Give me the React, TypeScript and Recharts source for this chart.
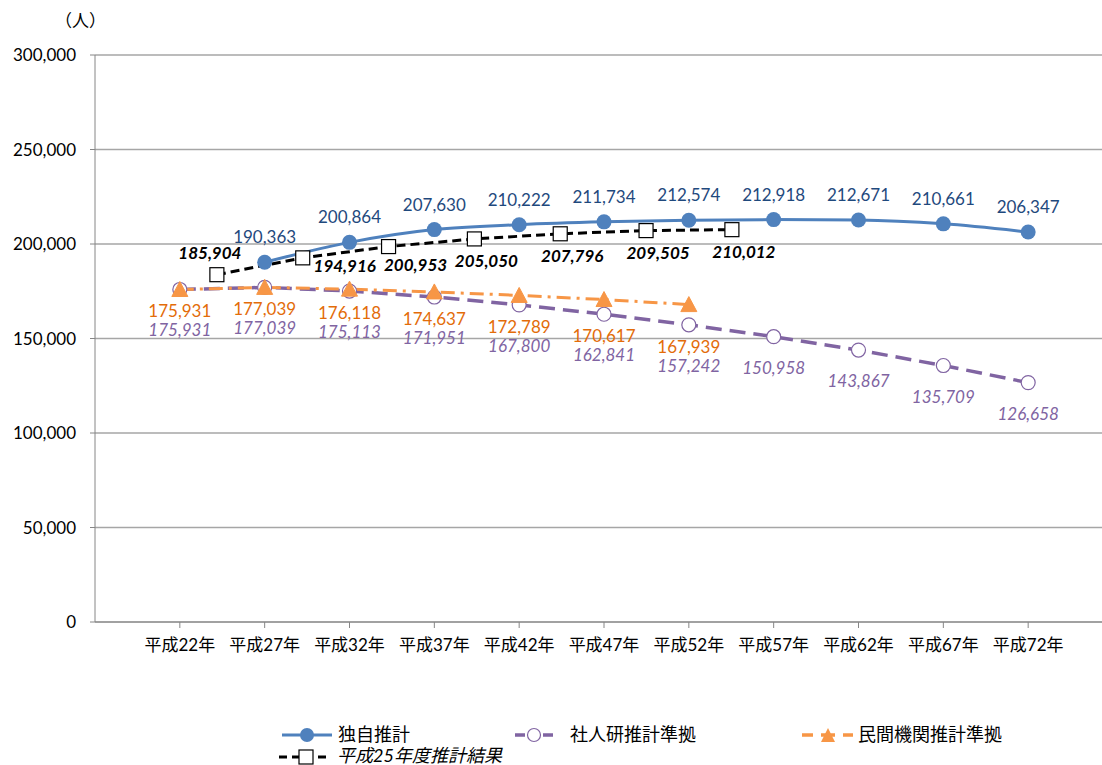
import React from 'react';
import { LineChart, Line, XAxis, YAxis, CartesianGrid } from 'recharts';

const years = [22, 27, 32, 37, 42, 47, 52, 57, 62, 67, 72];
const dokuji = [null, 190363, 200864, 207630, 210222, 211734, 212574, 212918, 212671, 210661, 206347];
const shajinken = [175931, 177039, 175113, 171951, 167800, 162841, 157242, 150958, 143867, 135709, 126658];
const minkan = [175931, 177039, 176118, 174637, 172789, 170617, 167939, null, null, null, null];
const h25 = [185904, 194916, 200953, 205050, 207796, 209505, 210012];
const yTicks = [0, 50000, 100000, 150000, 200000, 250000, 300000];

const BLUE = '#4f81bd';
const BLUE_TXT = '#1f497d';
const PURPLE = '#8064a2';
const ORANGE = '#f79646';
const ORANGE_TXT = '#e36c09';
const FONT = "Lato, 'Noto Sans CJK JP', sans-serif";
const FS = 17;
// pixels per person on the main y axis (plot is 567px tall for 300,000)
const PX = 567 / 300000;

const rows = years.map((y, i) => ({ year: y, dokuji: dokuji[i], shajinken: shajinken[i], minkan: minkan[i] }));
const h25Rows = h25.map((v, i) => ({ i, value: v }));

const fmt = (v: number) => v.toLocaleString('en-US');

// orange label sits under whichever marker is lower (orange or purple)
const orangeCenter = (y: number, i: number) => {
  const o = minkan[i] as number;
  const purpleY = y + (o - shajinken[i]) * PX;
  return Math.max(y, purpleY) + 22;
};

const blueLabel = (p: any) => {
  if (p.value == null) return null;
  return <text x={p.x} y={p.y - 19} textAnchor="middle" fontSize={FS} fill={BLUE_TXT} fontFamily={FONT}>{fmt(p.value)}</text>;
};
const orangeLabel = (p: any) => {
  if (p.value == null) return null;
  return <text x={p.x} y={orangeCenter(p.y, p.index) + 6} textAnchor="middle" fontSize={FS} fill={ORANGE_TXT} fontFamily={FONT}>{fmt(p.value)}</text>;
};
const purpleLabel = (p: any) => {
  if (p.value == null) return null;
  const i = p.index;
  let c = p.y + 31;
  if (minkan[i] != null) {
    const oy = p.y - ((minkan[i] as number) - p.value) * PX;
    c = orangeCenter(oy, i) + 19;
  }
  return <text x={p.x} y={c + 6} textAnchor="middle" fontSize={FS} fontStyle="italic" fill={PURPLE} fontFamily={FONT}>{fmt(p.value)}</text>;
};
const blackLabel = (p: any) => {
  let dx = 12, dy = 28;
  if (p.index === 0) { dx = -7; dy = -16; }
  if (p.index === 1) { dx = 42; dy = 14; }
  if (p.index === 2) { dx = 27; dy = 24; }
  return <text x={p.x + dx} y={p.y + dy} textAnchor="middle" fontSize={FS} fontWeight="bold" fontStyle="italic" fill="#000" fontFamily={FONT}>{fmt(p.value)}</text>;
};

const Triangle = (p: any) => {
  if (p.cx == null || p.cy == null) return null;
  const { cx, cy } = p;
  return <path d={`M${cx},${cy - 8} L${cx + 8},${cy + 7} L${cx - 8},${cy + 7} Z`} fill={ORANGE} stroke={ORANGE} />;
};
const Square = (p: any) => {
  if (p.cx == null || p.cy == null) return null;
  return <rect x={p.cx - 7} y={p.cy - 7} width={14} height={14} fill="#fff" stroke="#000" strokeWidth={1.2} />;
};

const legendText: React.CSSProperties = { position: 'absolute', fontSize: 18, fontFamily: FONT, lineHeight: '18px', whiteSpace: 'nowrap' };

const Legend = () => (
  <div>
    <svg style={{ position: 'absolute', left: 0, top: 0 }} width={1102} height={765}>
      <line x1={282} y1={735} x2={332} y2={735} stroke={BLUE} strokeWidth={3} />
      <circle cx={307} cy={735} r={7} fill={BLUE} />
      <line x1={515} y1={735} x2={553} y2={735} stroke={PURPLE} strokeWidth={3.5} strokeDasharray="10 18 10" />
      <circle cx={534} cy={735} r={6.5} fill="#fff" stroke={PURPLE} strokeWidth={1.2} />
      <line x1={802} y1={735} x2={853} y2={735} stroke={ORANGE} strokeWidth={3.5} strokeDasharray="11 8 14 8" />
      <path d="M828,728 L835,742 L821,742 Z" fill={ORANGE} />
      <line x1={279} y1={757} x2={330} y2={757} stroke="#000" strokeWidth={3} strokeDasharray="8 5" />
      <rect x={299} y={750} width={14} height={14} fill="#fff" stroke="#000" strokeWidth={1.2} />
    </svg>
    <div style={{ ...legendText, left: 338, top: 725 }}>独自推計</div>
    <div style={{ ...legendText, left: 570, top: 725 }}>社人研推計準拠</div>
    <div style={{ ...legendText, left: 858, top: 725 }}>民間機関推計準拠</div>
    <div style={{ ...legendText, left: 337, top: 746, fontStyle: 'italic' }}>平成25年度推計結果</div>
  </div>
);

export default function App() {
  return (
    <div style={{ position: 'absolute', left: 0, top: 0, width: 1102, height: 765, overflow: 'hidden', background: '#fff' }}>
      <div style={{ position: 'absolute', left: 55, top: 7, fontSize: 17, fontFamily: FONT }}>（人）</div>
      <LineChart width={1113} height={680} data={rows} margin={{ top: 55, right: 0, left: 0, bottom: 18 }}>
        <CartesianGrid vertical={false} stroke="#a6a6a6" strokeWidth={1.3} />
        <XAxis
          dataKey="year"
          type="number"
          domain={[17, 77]}
          ticks={years}
          height={40}
          tickFormatter={(v: number) => `平成${v}年`}
          tick={{ fontSize: FS, fill: '#000', fontFamily: FONT }}
          stroke="#868686"
          tickSize={6}
          tickMargin={11}
        />
        <XAxis xAxisId="b" dataKey="i" type="number" domain={[-1.42, 10.44]} hide />
        <YAxis
          domain={[0, 300000]}
          ticks={yTicks}
          width={95}
          tickFormatter={fmt}
          tick={{ fontSize: FS, fill: '#000', fontFamily: FONT }}
          stroke="#868686"
          tickSize={5}
          tickMargin={14}
        />
        <YAxis yAxisId="b" domain={[0, 303500]} hide />
        <Line dataKey="shajinken" stroke={PURPLE} strokeWidth={3.5} strokeDasharray="16 8" isAnimationActive={false}
          dot={{ r: 7, fill: '#fff', stroke: PURPLE, strokeWidth: 1.2, strokeDasharray: '0' }} label={purpleLabel} />
        <Line dataKey="minkan" stroke={ORANGE} strokeWidth={3} strokeDasharray="14 6 3 6" isAnimationActive={false}
          dot={<Triangle />} label={orangeLabel} />
        <Line dataKey="dokuji" type="monotone" stroke={BLUE} strokeWidth={3} isAnimationActive={false}
          dot={{ r: 7.5, fill: BLUE, stroke: BLUE, strokeWidth: 0 }} label={blueLabel} />
        <Line data={h25Rows} xAxisId="b" yAxisId="b" dataKey="value" stroke="#000" strokeWidth={3} strokeDasharray="9 5" isAnimationActive={false}
          dot={<Square />} label={blackLabel} />
      </LineChart>
      <Legend />
    </div>
  );
}
